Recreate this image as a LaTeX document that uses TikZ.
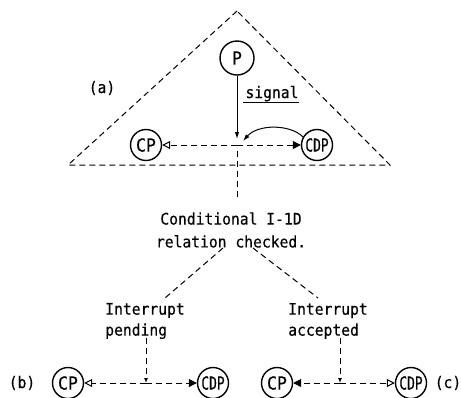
\documentclass[tikz,border=0pt]{standalone}
\usepackage{fontspec}
\usetikzlibrary{arrows.meta,calc}
\newfontfamily\labfont[FakeStretch=0.92,FakeBold=0.3]{DejaVu Sans Mono}
\begin{document}
\begin{tikzpicture}[x=1bp,y=-1bp,
  txt/.style={font=\labfont\fontsize{16}{21}\selectfont, inner sep=0pt},
  proc/.style={circle, draw, line width=1.4bp, minimum size=31bp, inner sep=0pt,
               font=\labfont\fontsize{18}{18}\selectfont},
  ln/.style={line width=1bp},
  dsh/.style={line width=1bp, dash pattern=on 6bp off 4bp},
  opentip/.style={-{Triangle[open,length=8bp,width=8bp]}},
  filltip/.style={-{Triangle[length=8bp,width=8bp]}},
  smalltip/.style={-{Latex[length=7bp,width=4.5bp]}},
  droptip/.style={-{Latex[length=5bp,width=4bp]}}]
\useasboundingbox (0,0) rectangle (461,397);

% (a) the scope triangle
\draw[dsh] (237,11) -- (68,165) -- (390,165) -- cycle;
\node[txt] (la) at (102,88) {(a)};

\node[proc, minimum size=34bp] (P) at (237,58) {P};
\node[proc] (CPa) at (146,145) {CP};
\node[proc] (CDPa) at (317,145) {\scalebox{0.78}[1]{CDP}};
\coordinate (Ja) at (237,145);
\coordinate (Jtip) at (237,139);
\coordinate (Jarc) at (243,141);

\draw[ln, smalltip] (P) -- (Jtip);
\node[txt, anchor=base] (sig) at (272,98) {signal};
\draw[ln] ($(sig.base west)+(-2,4)$) -- ($(sig.base east)+(0,4)$);

\draw[dsh, opentip] (Ja) -- (CPa);
\draw[dsh, filltip] (Ja) -- (CDPa);
\draw[ln, smalltip] (CDPa.150) .. controls (290,124) and (258,124) .. (Jarc);

% condition check
\coordinate (Jdown) at (237,151);
\coordinate (Jtext) at (237,197);
\draw[dsh] (Jdown) -- (Jtext);
\node[txt, align=center, font=\labfont\fontsize{16}{23}\selectfont] (cond) at (231,230)
  {Conditional I-1D\\relation checked.};

\node[txt, align=left] (pend) at (145,321) {Interrupt\\pending};
\node[txt, align=left] (acc) at (328,321) {Interrupt\\accepted};

\coordinate (bl0) at (223,248);
\coordinate (bl1) at (165,298);
\coordinate (br0) at (253,248);
\coordinate (br1) at (318,298);
\draw[dsh] (bl0) -- (bl1);
\draw[dsh] (br0) -- (br1);

% (b) interrupt pending
\node[txt] (lb) at (22,383) {(b)};
\node[proc] (CPb) at (68,383) {CP};
\node[proc] (CDPb) at (213,383) {\scalebox{0.78}[1]{CDP}};
\coordinate (Jb) at (146,383);
\coordinate (pb) at (146,338);
\draw[dsh, droptip] (pb) -- (Jb);
\draw[dsh, opentip] (Jb) -- (CPb);
\draw[dsh, filltip] (Jb) -- (CDPb);

% (c) interrupt accepted
\node[txt] (lc) at (448,383) {(c)};
\node[proc] (CPc) at (277,383) {CP};
\node[proc] (CDPc) at (411,383) {\scalebox{0.78}[1]{CDP}};
\coordinate (Jc) at (340,383);
\coordinate (pc) at (340,338);
\draw[dsh, droptip] (pc) -- (Jc);
\draw[dsh, filltip] (Jc) -- (CPc);
\draw[dsh, opentip] (Jc) -- (CDPc);
\end{tikzpicture}
\end{document}
